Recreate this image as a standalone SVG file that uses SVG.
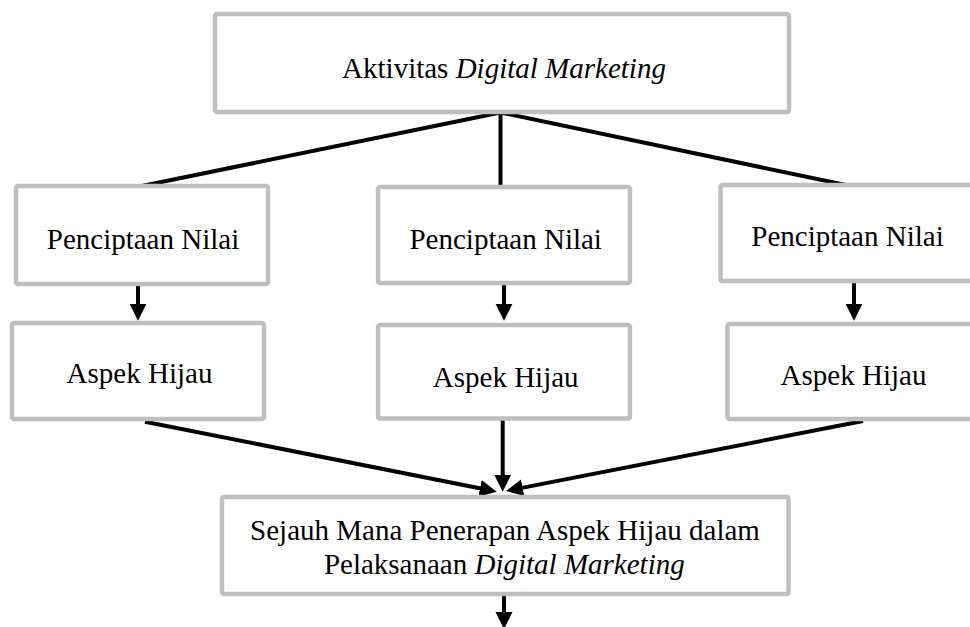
<svg xmlns="http://www.w3.org/2000/svg" width="970" height="627" viewBox="0 0 970 627">
<defs>
<style>
.box{fill:#ffffff;stroke:#bfbfbf;stroke-width:4.5}
.t{font-family:"Liberation Serif","Times New Roman",serif;font-size:29px;fill:#000000;text-anchor:middle}
.i{font-style:italic}
.ln{stroke:#000000;stroke-width:4;fill:none}
.ar{stroke:#000000;stroke-width:4;fill:none;marker-end:url(#ah)}
</style>
<marker id="ah" markerUnits="userSpaceOnUse" markerWidth="18" markerHeight="18" refX="6" refY="8.5" orient="auto">
<path d="M0,0 L17,8.5 L0,17 Z" fill="#000000"/>
</marker>
</defs>
<rect width="970" height="627" fill="#ffffff"/>
<g id="connectors">
<line class="ln" x1="500.5" y1="112.5" x2="137" y2="187"/>
<line class="ln" x1="500.5" y1="112.5" x2="500.5" y2="185"/>
<line class="ln" x1="500.5" y1="112.5" x2="845.7" y2="185"/>
<line class="ar" x1="138" y1="285" x2="138" y2="309.7"/>
<line class="ar" x1="504" y1="285" x2="504" y2="309.7"/>
<line class="ar" x1="854" y1="283" x2="854" y2="309.7"/>
<line class="ar" x1="145" y1="421.7" x2="485.9" y2="489.5"/>
<line class="ar" x1="502.7" y1="420" x2="502.7" y2="480.7"/>
<line class="ar" x1="863" y1="421" x2="516.8" y2="488.9"/>
<line class="ar" x1="504" y1="596" x2="504" y2="618"/>
</g>
<g id="node-top">
<rect class="box" x="215" y="14" width="574" height="98" rx="2"/>
<text class="t" x="504" y="77.5">Aktivitas <tspan class="i">Digital Marketing</tspan></text>
</g>
<g id="node-penciptaan-1">
<rect class="box" x="16" y="186" width="252" height="98" rx="2"/>
<text class="t" x="143" y="249">Penciptaan Nilai</text>
</g>
<g id="node-penciptaan-2">
<rect class="box" x="378" y="187" width="252" height="96" rx="2"/>
<text class="t" x="505.7" y="249">Penciptaan Nilai</text>
</g>
<g id="node-penciptaan-3">
<rect class="box" x="720.5" y="185" width="260" height="96" rx="2"/>
<text class="t" x="847.5" y="245.7">Penciptaan Nilai</text>
</g>
<g id="node-aspek-1">
<rect class="box" x="12" y="323" width="252" height="96" rx="2"/>
<text class="t" x="139.5" y="383">Aspek Hijau</text>
</g>
<g id="node-aspek-2">
<rect class="box" x="378" y="325" width="252" height="93.5" rx="2"/>
<text class="t" x="505.7" y="386.7">Aspek Hijau</text>
</g>
<g id="node-aspek-3">
<rect class="box" x="727.5" y="324" width="260" height="95" rx="2"/>
<text class="t" x="853.5" y="385">Aspek Hijau</text>
</g>
<g id="node-bottom">
<rect class="box" x="222" y="497" width="566.5" height="97" rx="2"/>
<text class="t" x="505" y="540">Sejauh Mana Penerapan Aspek Hijau dalam</text>
<text class="t" x="504.3" y="574">Pelaksanaan <tspan class="i">Digital Marketing</tspan></text>
</g>
</svg>
